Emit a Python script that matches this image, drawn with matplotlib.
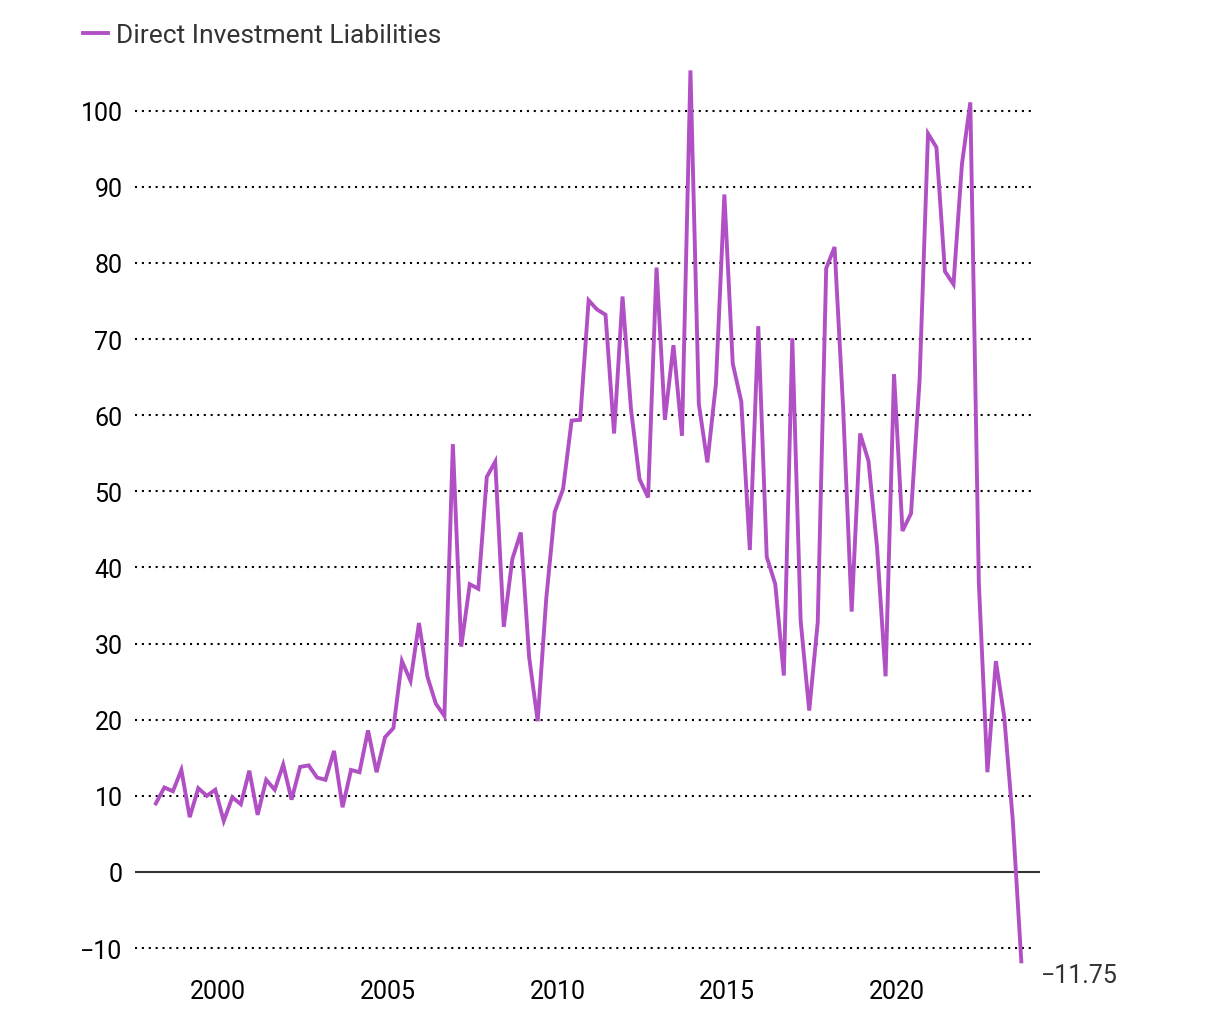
import matplotlib
matplotlib.use("Agg")
import matplotlib.pyplot as plt
import pandas as pd

plt.rcParams['font.family'] = ['Roboto', 'DejaVu Sans']

# quarterly values, 1998 Q1 .. 2023 Q3
values = [
    9.0, 11.1, 10.6, 13.4, 7.2, 11.0, 10.0, 10.8,
    6.7, 9.8, 8.9, 13.3, 7.5, 12.1, 10.8, 14.1,
    9.5, 13.8, 14.0, 12.4, 12.1, 15.9, 8.5, 13.4,
    13.1, 18.6, 13.1, 17.7, 18.9, 27.7, 25.1, 32.7,
    25.7, 22.1, 20.5, 56.2, 29.6, 37.8, 37.2, 51.9,
    53.9, 32.2, 41.1, 44.6, 28.2, 19.8, 35.9, 47.3,
    50.3, 59.3, 59.4, 75.1, 73.9, 73.2, 57.6, 75.6,
    60.8, 51.6, 49.2, 79.4, 59.4, 69.2, 57.3, 105.3,
    61.5, 53.8, 64.1, 89.0, 66.8, 61.8, 42.3, 71.7,
    41.4, 37.8, 25.8, 70.1, 33.0, 21.2, 32.8, 79.3,
    82.1, 61.0, 34.2, 57.6, 54.0, 42.7, 25.7, 65.4,
    44.8, 47.1, 64.6, 97.0, 95.2, 78.9, 77.2, 93.0,
    101.1, 37.9, 13.1, 27.7, 20.4, 6.8, -11.75,
]
dates = pd.date_range('1998-01-01', periods=len(values), freq='QS') + pd.DateOffset(months=2)

y_ticks = [-10, 0, 10, 20, 30, 40, 50, 60, 70, 80, 90, 100]
x_years = [2000, 2005, 2010, 2015, 2020]

line_color = '#b050c4'
text_color = '#333333'

fig = plt.figure(figsize=(12.2, 10.2), dpi=100)
W, H = 1220, 1020
left, right, top, bottom = 135, 1040, 60, 970
ax = fig.add_axes([left / W, 1 - bottom / H, (right - left) / W, (bottom - top) / H])

line, = ax.plot(dates, values, color=line_color, lw=2.8, label='Direct Investment Liabilities',
                solid_joinstyle='miter', zorder=3)

# grid: dotted, zero line solid
for t in y_ticks:
    if t == 0:
        ax.axhline(0, color=text_color, lw=1.5, zorder=2)
    else:
        ax.axhline(t, xmax=0.994, color='black', lw=1.5, linestyle=(0, (1, 2.3)), zorder=1)

ax.set_ylim(-12.75, 106.8)
ax.set_xlim(pd.Timestamp('1997-07-20'), pd.Timestamp('2024-03-20'))
ax.set_yticks(y_ticks)
ax.set_yticklabels([str(t).replace('-', '\u2212') for t in y_ticks])
ax.set_xticks([pd.Timestamp(f'{y}-01-01') for y in x_years])
ax.set_xticklabels([str(y) for y in x_years])
ax.tick_params(axis='both', length=0, labelsize=18, colors='black')
ax.tick_params(axis='y', pad=9)
ax.tick_params(axis='x', pad=7)
for s in ax.spines.values():
    s.set_visible(False)

ax.annotate('\u221211.75', xy=(dates[-1], values[-1]), xytext=(14, -10),
            textcoords='offset points', ha='left', va='center',
            fontsize=18, color=text_color)

ax.legend(handles=[line], loc='upper left', bbox_to_anchor=(59 / W, 1 - 0 / H),
          bbox_transform=fig.transFigure, frameon=False, fontsize=19,
          handlelength=0.95, handletextpad=0.3, labelcolor=text_color)

fig.savefig('out.png', dpi=100)
